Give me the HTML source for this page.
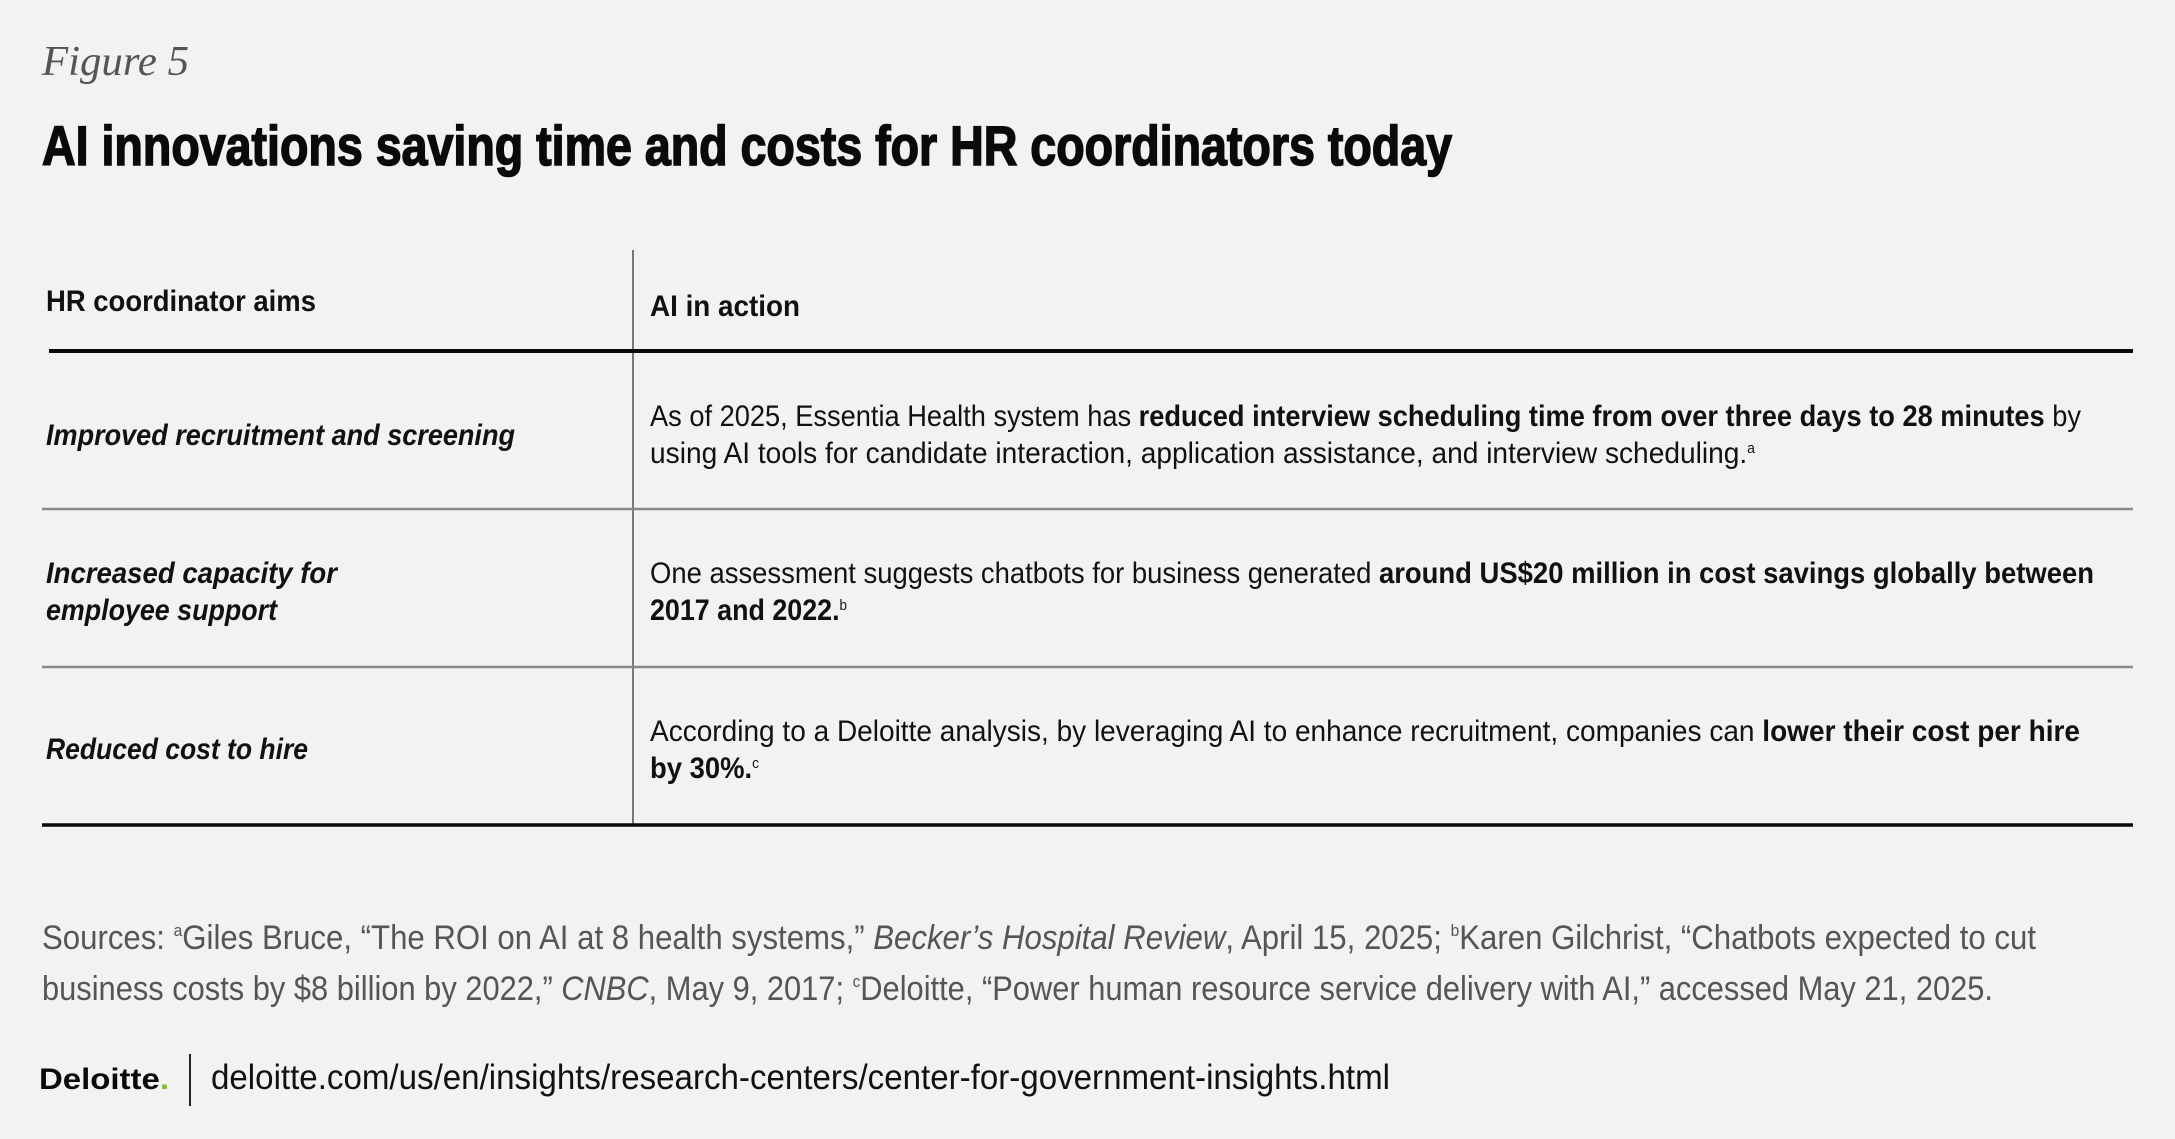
<!DOCTYPE html>
<html><head><meta charset="utf-8"><style>
html,body{margin:0;padding:0;background:#f2f2f2;}
svg{display:block;}
text{font-family:"Liberation Sans",sans-serif;}
</style></head><body>
<svg width="2175" height="1139" viewBox="0 0 2175 1139" xmlns="http://www.w3.org/2000/svg">
<rect width="2175" height="1139" fill="#f2f2f2"/>
<text x="42" y="75" style="font-family:'Liberation Serif',serif;font-style:italic" font-size="42" fill="#555" textLength="147" lengthAdjust="spacingAndGlyphs">Figure 5</text>
<text x="42" y="165" font-weight="bold" font-size="56" fill="#0a0a0a" stroke="#0a0a0a" stroke-width="1.6" textLength="1410" lengthAdjust="spacingAndGlyphs">AI innovations saving time and costs for HR coordinators today</text>

<line x1="633" y1="250" x2="633" y2="825" stroke="#777" stroke-width="2"/>
<line x1="49" y1="351" x2="2133" y2="351" stroke="#0a0a0a" stroke-width="4"/>
<line x1="42" y1="509" x2="2133" y2="509" stroke="#888" stroke-width="2.5"/>
<line x1="42" y1="667" x2="2133" y2="667" stroke="#888" stroke-width="2.5"/>
<line x1="42" y1="825" x2="2133" y2="825" stroke="#0a0a0a" stroke-width="3.5"/>

<g fill="#111" font-size="30">
<text x="46" y="311" font-weight="bold" textLength="270" lengthAdjust="spacingAndGlyphs">HR coordinator aims</text>
<text x="650" y="316" font-weight="bold" textLength="150" lengthAdjust="spacingAndGlyphs">AI in action</text>

<text x="46" y="445" font-weight="bold" font-style="italic" textLength="469" lengthAdjust="spacingAndGlyphs">Improved recruitment and screening</text>
<text x="650" y="426" textLength="1431" lengthAdjust="spacingAndGlyphs">As of 2025, Essentia Health system has <tspan font-weight="bold">reduced interview scheduling time from over three days to 28 minutes</tspan> by</text>
<text x="650" y="463" textLength="1105" lengthAdjust="spacingAndGlyphs">using AI tools for candidate interaction, application assistance, and interview scheduling.<tspan font-size="15" dy="-10">a</tspan></text>

<text x="46" y="583" font-weight="bold" font-style="italic" textLength="291" lengthAdjust="spacingAndGlyphs">Increased capacity for</text>
<text x="46" y="620" font-weight="bold" font-style="italic" textLength="231" lengthAdjust="spacingAndGlyphs">employee support</text>
<text x="650" y="583" textLength="1444" lengthAdjust="spacingAndGlyphs">One assessment suggests chatbots for business generated <tspan font-weight="bold">around US$20 million in cost savings globally between</tspan></text>
<text x="650" y="620" font-weight="bold" textLength="197" lengthAdjust="spacingAndGlyphs">2017 and 2022.<tspan font-weight="normal" font-size="15" dy="-10">b</tspan></text>

<text x="46" y="759" font-weight="bold" font-style="italic" textLength="262" lengthAdjust="spacingAndGlyphs">Reduced cost to hire</text>
<text x="650" y="741" textLength="1430" lengthAdjust="spacingAndGlyphs">According to a Deloitte analysis, by leveraging AI to enhance recruitment, companies can <tspan font-weight="bold">lower their cost per hire</tspan></text>
<text x="650" y="778" font-weight="bold" textLength="109" lengthAdjust="spacingAndGlyphs">by 30%.<tspan font-weight="normal" font-size="15" dy="-10">c</tspan></text>
</g>

<g fill="#555" font-size="34">
<text x="42" y="949" textLength="1994" lengthAdjust="spacingAndGlyphs">Sources: <tspan font-size="17" dy="-13">a</tspan><tspan dy="13">Giles Bruce, “The ROI on AI at 8 health systems,” </tspan><tspan font-style="italic">Becker’s Hospital Review</tspan>, April 15, 2025; <tspan font-size="17" dy="-13">b</tspan><tspan dy="13">Karen Gilchrist, “Chatbots expected to cut</tspan></text>
<text x="42" y="1000" textLength="1951" lengthAdjust="spacingAndGlyphs">business costs by $8 billion by 2022,” <tspan font-style="italic">CNBC</tspan>, May 9, 2017; <tspan font-size="17" dy="-13">c</tspan><tspan dy="13">Deloitte, “Power human resource service delivery with AI,” accessed May 21, 2025.</tspan></text>
</g>

<text x="39" y="1089" font-weight="bold" font-size="30" fill="#0a0a0a" textLength="130" lengthAdjust="spacingAndGlyphs">Deloitte<tspan fill="#86bc25">.</tspan></text>
<line x1="190" y1="1054" x2="190" y2="1106" stroke="#222" stroke-width="2"/>
<text x="211" y="1089" font-size="35" fill="#111" textLength="1179" lengthAdjust="spacingAndGlyphs">deloitte.com/us/en/insights/research-centers/center-for-government-insights.html</text>
</svg>
</body></html>
